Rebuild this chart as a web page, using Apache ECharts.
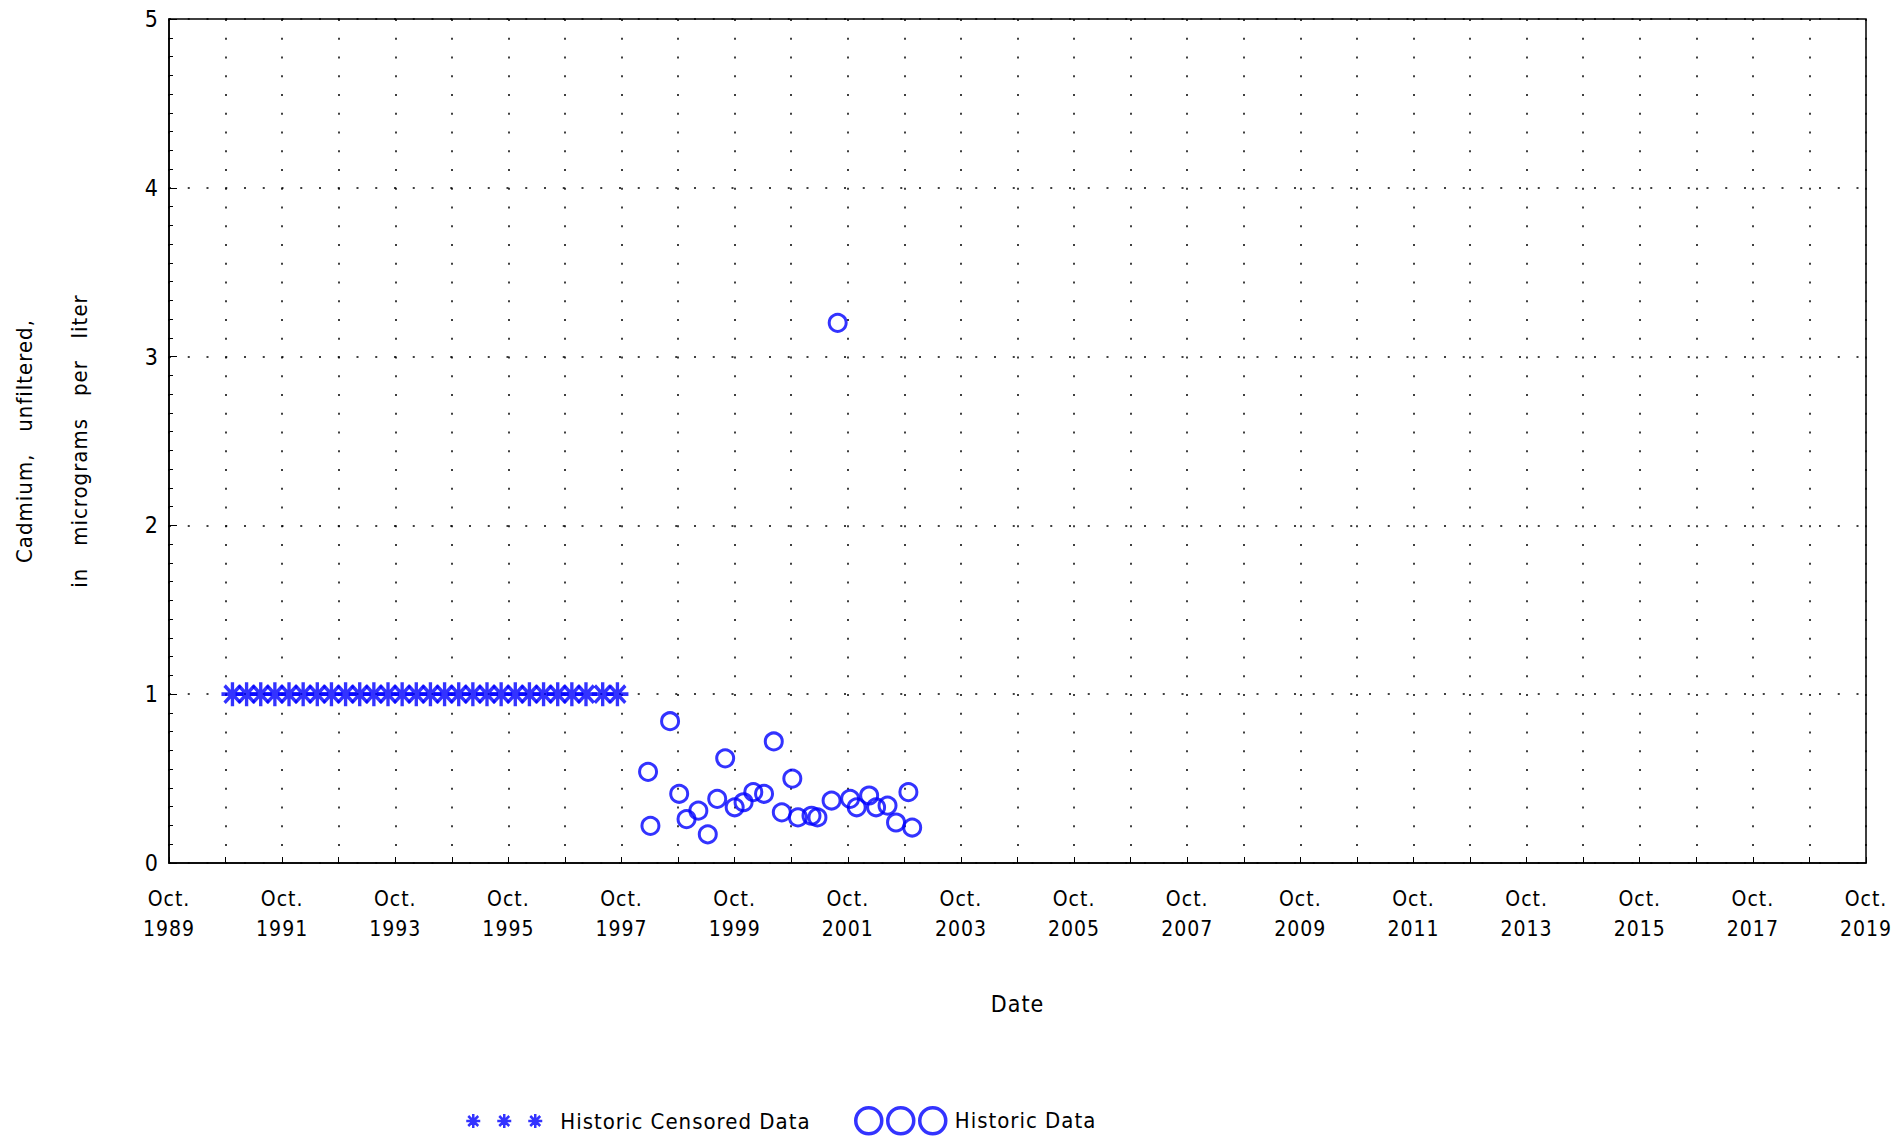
<!DOCTYPE html>
<html>
<head>
<meta charset="utf-8">
<title>Cadmium, unfiltered</title>
<script src="https://cdn.jsdelivr.net/npm/echarts@6/dist/echarts.min.js"></script>
<style>
    html, body { margin: 0; padding: 0; background: #fff; }
    #main { width: 1891px; height: 1136px; }
    #main text { letter-spacing: 1px; }
</style>
</head>
<body>
<div id="main"></div>
<script>
    // censored samples (reported as < 1 ug/L)
    var censoredDates = [
        '1990-11-15', '1991-02-15', '1991-05-15', '1991-08-15', '1991-11-15',
        '1992-02-15', '1992-05-15', '1992-08-15', '1992-11-15',
        '1993-02-15', '1993-05-15', '1993-08-15', '1993-11-15',
        '1994-02-15', '1994-05-15', '1994-08-15', '1994-11-15',
        '1995-02-15', '1995-05-15', '1995-08-15', '1995-11-15',
        '1996-02-15', '1996-05-15', '1996-08-15', '1996-11-15',
        '1997-02-15', '1997-06-01', '1997-09-05'
    ];
    var censoredValues = [
        1, 1, 1, 1, 1, 1, 1, 1, 1, 1, 1, 1, 1, 1,
        1, 1, 1, 1, 1, 1, 1, 1, 1, 1, 1, 1, 1, 1
    ];

    // measured samples
    var historicDates = [
        '1998-03-20', '1998-04-05', '1998-08-10', '1998-10-08', '1998-11-25',
        '1999-02-10', '1999-04-10', '1999-06-10', '1999-07-31', '1999-10-01',
        '1999-11-28', '2000-01-30', '2000-04-08', '2000-06-10', '2000-08-01',
        '2000-10-08', '2000-11-14', '2001-02-10', '2001-03-18', '2001-06-18',
        '2001-07-27', '2001-10-16', '2001-11-28', '2002-02-17', '2002-04-01',
        '2002-06-14', '2002-08-08', '2002-10-27', '2002-11-21'
    ];
    var historicValues = [
        0.54, 0.22, 0.84, 0.41, 0.26,
        0.31, 0.17, 0.38, 0.62, 0.33,
        0.36, 0.42, 0.41, 0.72, 0.30,
        0.50, 0.27, 0.28, 0.27, 0.37,
        3.20, 0.38, 0.33, 0.40, 0.33,
        0.34, 0.24, 0.42, 0.21
    ];

    // x axis runs in water years: Oct. 1 1989 = 1990.0
    var xMin = 1990, xMax = 2020;
    var yMin = 0, yMax = 5;

    var blue = '#0000ff';
    var font = '"Liberation Sans Narrow", "DejaVu Sans Condensed", sans-serif';
    var starPath = 'path://M7,0L7,14M0,7L14,7M2,2L12,12M2,12L12,2';
    var starsIcon = 'path://M7,0L7,14M0,7L14,7M2,2L12,12M2,12L12,2' +
        'M38,0L38,14M31,7L45,7M33,2L43,12M33,12L43,2' +
        'M69,0L69,14M62,7L76,7M64,2L74,12M64,12L74,2';
    var circlesIcon = 'path://M0,13a13,13 0 1,0 26,0a13,13 0 1,0 -26,0' +
        'M32,13a13,13 0 1,0 26,0a13,13 0 1,0 -26,0' +
        'M64,13a13,13 0 1,0 26,0a13,13 0 1,0 -26,0';

    function waterYear(s) {
        var p = s.split('-').map(Number);
        return p[0] + (p[1] - 1) / 12 + (p[2] - 1) / 365 + 0.25;
    }

    function pairs(dates, values) {
        return dates.map(function (d, i) {
            return [waterYear(d), values[i]];
        });
    }

    var chart = echarts.init(document.getElementById('main'), null, {renderer: 'svg'});
    chart.setOption({
        animation: false,
        backgroundColor: '#fff',
        textStyle: {fontFamily: font, color: '#000'},
        grid: {
            left: 169,
            top: 19,
            width: 1697,
            height: 844,
            containLabel: false,
            outerBoundsMode: 'none',
            show: true,
            borderColor: '#000',
            borderWidth: 1.5
        },
        legend: [
            {
                data: ['Historic Censored Data'],
                left: 460,
                top: 1105,
                itemWidth: 76,
                itemHeight: 14,
                icon: starsIcon,
                itemStyle: {color: 'transparent', borderColor: blue, borderWidth: 2.5},
                textStyle: {fontFamily: font, fontSize: 22, color: '#000', padding: [0, 0, 0, 13]}
            },
            {
                data: ['Historic Data'],
                left: 849,
                top: 1101,
                itemWidth: 90,
                itemHeight: 26,
                icon: circlesIcon,
                itemStyle: {color: 'transparent', borderColor: blue, borderWidth: 3.5},
                textStyle: {fontFamily: font, fontSize: 22, color: '#000', padding: [0, 0, 0, 4]}
            }
        ],
        xAxis: {
            type: 'value',
            min: xMin,
            max: xMax,
            interval: 1,
            name: 'Date',
            nameLocation: 'middle',
            nameGap: 129,
            nameTextStyle: {fontFamily: font, fontSize: 23, color: '#000'},
            axisLine: {lineStyle: {color: '#000', width: 1.5}},
            axisTick: {inside: true, length: 6, lineStyle: {color: '#000'}},
            axisLabel: {
                margin: 21,
                fontSize: 21,
                lineHeight: 30,
                color: '#000',
                fontFamily: font,
                formatter: function (v) {
                    return (v - xMin) % 2 === 0 ? 'Oct.\n' + (v - 1) : '';
                }
            },
            splitLine: {show: true, lineStyle: {color: '#000', width: 1.5, type: [2, 16.75]}}
        },
        yAxis: {
            type: 'value',
            min: yMin,
            max: yMax,
            interval: 1,
            name: 'Cadmium,   unfiltered,\nin   micrograms   per   liter',
            nameLocation: 'middle',
            nameGap: 62,
            nameTextStyle: {fontFamily: font, fontSize: 22, color: '#000', lineHeight: 55},
            axisLine: {lineStyle: {color: '#000', width: 1.5}},
            axisTick: {inside: true, length: 8, lineStyle: {color: '#000'}},
            minorTick: {show: true, splitNumber: 9, length: 4, lineStyle: {color: '#000'}},
            axisLabel: {margin: 10, fontSize: 23, color: '#000', fontFamily: font},
            splitLine: {show: true, lineStyle: {color: '#000', width: 1.5, type: [2, 16.75]}}
        },
        series: [
            {
                name: 'Historic Censored Data',
                type: 'scatter',
                symbol: starPath,
                symbolSize: [22, 24],
                itemStyle: {color: 'transparent', borderColor: blue, borderWidth: 3.5},
                data: pairs(censoredDates, censoredValues)
            },
            {
                name: 'Historic Data',
                type: 'scatter',
                symbol: 'circle',
                symbolSize: 17,
                itemStyle: {color: 'transparent', borderColor: blue, borderWidth: 3},
                data: pairs(historicDates, historicValues)
            }
        ]
    });
    window.addEventListener('resize', function () {
        chart.resize();
    });
</script>
</body>
</html>
